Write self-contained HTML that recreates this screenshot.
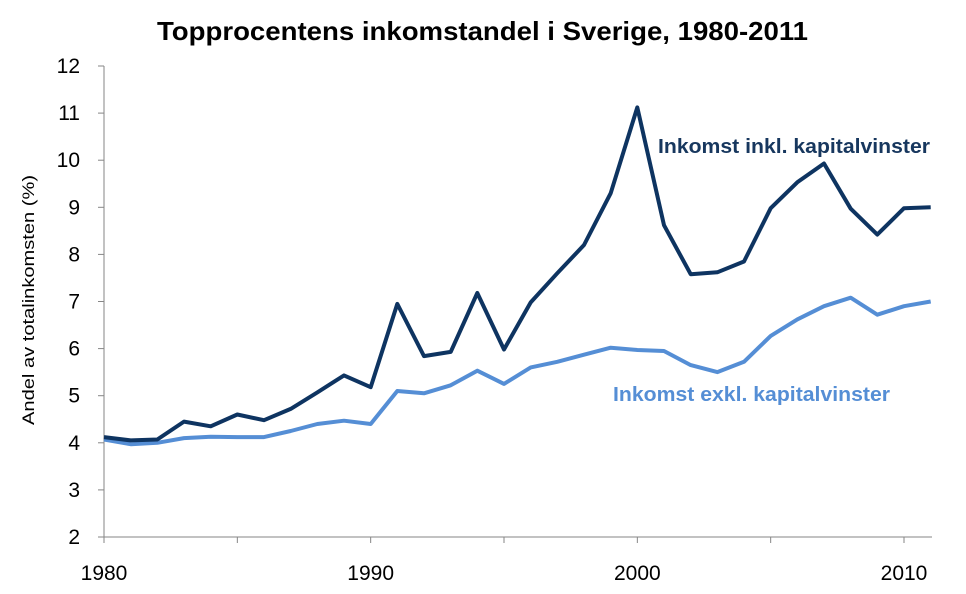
<!DOCTYPE html>
<html><head><meta charset="utf-8"><style>
body{margin:0;background:#fff;}
svg text{font-family:"Liberation Sans",sans-serif;}
</style></head><body>
<svg id="s" width="966" height="589" xmlns="http://www.w3.org/2000/svg">
<text x="157" y="40" font-size="26" font-weight="bold" fill="#000" textLength="651" lengthAdjust="spacingAndGlyphs">Topprocentens inkomstandel i Sverige, 1980-2011</text>
<text transform="translate(34,300) rotate(-90)" text-anchor="middle" font-size="17" fill="#000" textLength="250" lengthAdjust="spacingAndGlyphs">Andel av totalinkomsten (%)</text>
<g id="ax" stroke="#868686" stroke-width="1"></g>
<g id="lab" font-size="21" fill="#000"></g>
<polyline id="l2" fill="none" stroke="#558ed5" stroke-width="4" stroke-linejoin="round"/>
<polyline id="l1" fill="none" stroke="#0e3461" stroke-width="4" stroke-linejoin="round"/>
<text x="658" y="153" font-size="20" font-weight="bold" fill="#17375e" textLength="272" lengthAdjust="spacingAndGlyphs">Inkomst inkl. kapitalvinster</text>
<text x="613" y="401" font-size="20" font-weight="bold" fill="#558ed5" textLength="277" lengthAdjust="spacingAndGlyphs">Inkomst exkl. kapitalvinster</text>
</svg>
<script>
var X=function(y){return 104+(y-1980)*26.667},Y=function(v){return 537-(v-2)*47.1};
var ax=document.getElementById('ax'),lab=document.getElementById('lab'),h='';
h+='<line x1="104" y1="66" x2="104" y2="537"/><line x1="104" y1="537" x2="932" y2="537"/>';
var t='';
for(var v=2;v<=12;v++){var y=Y(v);h+='<line x1="98" y1="'+y+'" x2="104" y2="'+y+'"/>';t+='<text x="80" y="'+(y+7)+'" text-anchor="end">'+v+'</text>';}
for(var yr=1980;yr<=2010;yr+=5){var x=X(yr);h+='<line x1="'+x+'" y1="537" x2="'+x+'" y2="543"/>';}
[1980,1990,2000,2010].forEach(function(yr){t+='<text x="'+X(yr)+'" y="580" text-anchor="middle">'+yr+'</text>';});
ax.innerHTML=h;lab.innerHTML=t;
var d1=[4.12,4.05,4.07,4.45,4.35,4.6,4.48,4.72,5.07,5.43,5.18,6.95,5.84,5.93,7.18,5.98,6.98,7.6,8.2,9.3,11.12,8.62,7.58,7.62,7.85,8.98,9.53,9.93,8.97,8.42,8.98,9.0];
var d2=[4.07,3.97,4.0,4.1,4.13,4.12,4.12,4.25,4.4,4.47,4.4,5.1,5.05,5.22,5.53,5.25,5.6,5.72,5.87,6.02,5.97,5.95,5.65,5.5,5.72,6.27,6.62,6.9,7.08,6.72,6.9,7.0];
function pts(d){return d.map(function(v,i){return X(1980+i).toFixed(1)+','+Y(v).toFixed(1)}).join(' ');}
document.getElementById('l1').setAttribute('points',pts(d1));
document.getElementById('l2').setAttribute('points',pts(d2));
</script>
</body></html>
